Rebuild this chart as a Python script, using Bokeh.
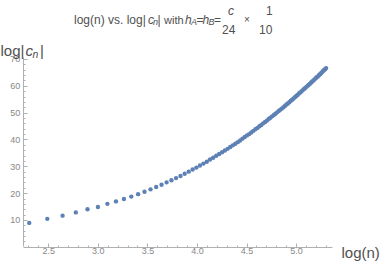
from bokeh.plotting import figure
from bokeh.models import Label, SingleIntervalTicker, NumeralTickFormatter, Range1d
from bokeh.embed import file_html
from bokeh.resources import INLINE
import numpy as np

# ---- data ----
ns = [10, 12, 14, 16, 18, 20, 22, 24, 26, 28, 30, 32, 34, 36, 38, 40, 42, 44, 46, 48,
      50, 52, 54, 56, 58, 60, 62, 64, 66, 68, 70, 72, 74, 76, 78, 80, 82, 84, 86, 88,
      90, 92, 94, 96, 98, 100, 102, 104, 106, 108, 110, 112, 114, 116, 118, 120, 122,
      124, 126, 128, 130, 132, 134, 136, 138, 140, 142, 144, 146, 148, 150, 152, 154,
      156, 158, 160, 162, 164, 166, 168, 170, 172, 174, 176, 178, 180, 182, 184, 186,
      188, 190, 192, 194, 196, 198, 200]
log_cn = [9.1, 10.6, 11.8, 13.0, 14.2, 15.0, 16.2, 17.1, 18.0, 18.9, 19.8, 20.7, 21.6,
          22.5, 23.3, 24.2, 25.0, 25.8, 26.6, 27.4, 28.2, 29.0, 29.7, 30.5, 31.2, 31.9,
          32.7, 33.4, 34.1, 34.8, 35.4, 36.1, 36.7, 37.4, 38.0, 38.6, 39.2, 39.8, 40.5,
          41.1, 41.7, 42.2, 42.8, 43.4, 44.0, 44.5, 45.1, 45.6, 46.2, 46.7, 47.2, 47.8,
          48.3, 48.8, 49.3, 49.8, 50.3, 50.8, 51.3, 51.7, 52.2, 52.7, 53.2, 53.6, 54.1,
          54.6, 55.0, 55.5, 55.9, 56.4, 56.8, 57.3, 57.7, 58.1, 58.6, 59.0, 59.4, 59.8,
          60.2, 60.6, 61.0, 61.4, 61.8, 62.2, 62.6, 63.0, 63.4, 63.7, 64.1, 64.5, 64.9,
          65.3, 65.7, 66.1, 66.4, 66.8]
x_ticks_interval = 0.5
y_ticks_interval = 10

log_n = np.log(np.array(ns, dtype=float))

TXT = "#505050"
TICK = "#888888"
AX = "#b0b0b0"
FONT = "Liberation Sans"

W, H = 382, 264
# pixel geometry of the reference (canvas px -> data)
PX_X = 99.1   # px per unit of log(n)
X25 = 48.3    # canvas x of log(n)=2.5
PX_Y = 2.683  # px per unit of log|c_n|
Y0 = 246.8    # canvas y of log|c_n|=0


def xd(X):
    return 2.5 + (X - X25) / PX_X


def yd(Y):
    return (Y0 - Y) / PX_Y


p = figure(width=W, height=H, title=None,
           x_range=Range1d(xd(0), xd(W)), y_range=Range1d(yd(H), yd(0)),
           output_backend="svg", toolbar_location=None,
           min_border=0)
p.outline_line_color = None
p.xgrid.visible = False
p.ygrid.visible = False
p.background_fill_color = "white"
p.border_fill_color = "white"

p.scatter(log_n, log_cn, size=4.4, color="#5E81B5", line_color=None)

xa = p.xaxis[0]
ya = p.yaxis[0]
xa.ticker = SingleIntervalTicker(interval=x_ticks_interval, num_minor_ticks=5)
ya.ticker = SingleIntervalTicker(interval=y_ticks_interval, num_minor_ticks=5)
xa.formatter = NumeralTickFormatter(format="0.0")
xa.fixed_location = yd(246.7)
xa.bounds = (xd(22.7), xd(332))
ya.fixed_location = xd(22.7)
ya.bounds = (0.15, yd(57.3))

for ax in (xa, ya):
    ax.axis_line_color = AX
    ax.major_tick_line_color = AX
    ax.minor_tick_line_color = AX
    ax.major_tick_in = 4
    ax.major_tick_out = 0
    ax.minor_tick_in = 2
    ax.minor_tick_out = 0
    ax.major_label_text_font = FONT
    ax.major_label_text_font_size = "9px"
    ax.major_label_text_color = TICK
xa.major_label_standoff = 1
ya.major_label_standoff = 3


def lab(text, X, Y, size=12, italic=False, color=TXT):
    p.add_layout(Label(x=xd(X), y=yd(Y), text=text, text_font=FONT,
                       text_font_size=f"{size}px",
                       text_font_style="italic" if italic else "normal",
                       text_color=color, text_baseline="alphabetic",
                       text_align="left"))


# title
lab("log(n) vs. log|", 73.5, 19)
lab("c", 147.5, 19, italic=True)
lab("n", 152.5, 21.5, size=9, italic=True)
lab("|", 157, 19)
lab("with", 163.5, 19, size=11)
lab("h", 184.5, 19, italic=True)
lab("A", 190.5, 21.5, size=9, italic=True)
lab("=", 196, 19)
lab("h", 202, 19, italic=True)
lab("B", 208, 21.5, size=9, italic=True)
lab("=", 213.5, 19)
lab("c", 227.5, 10, italic=True)
lab("24", 221.5, 28.5)
lab("\u00d7", 243.5, 18.5, size=10)
lab("1", 265.5, 10)
lab("10", 258.5, 28.5)

# y axis label
lab("log|", 0, 50, size=15)
lab("c", 25, 50, size=15, italic=True)
lab("n", 32, 53, size=10.5, italic=True)
lab("|", 39.5, 50, size=15)

# x axis label
lab("log(n)", 341, 252, size=15)

open("out.html", "w").write(file_html(p, INLINE))
